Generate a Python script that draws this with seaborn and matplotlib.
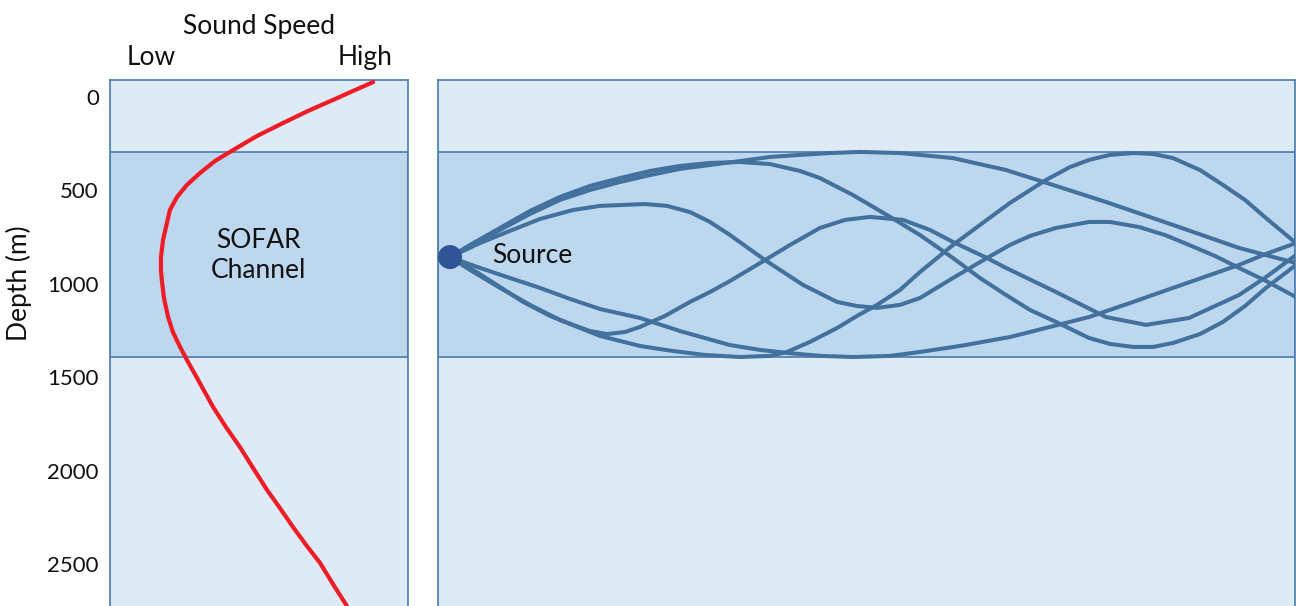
import numpy as np
import pandas as pd
import matplotlib
matplotlib.use("Agg")
import matplotlib.pyplot as plt
import seaborn as sns

# ---------------- data ----------------
# sound speed profile (normalised speed 0..1, depth in m)
speed = [0.883, 0.815, 0.748, 0.664, 0.581, 0.493, 0.413, 0.352, 0.302, 0.258,
         0.225, 0.201, 0.191, 0.178, 0.171, 0.171, 0.174, 0.181, 0.195, 0.211,
         0.235, 0.262, 0.292, 0.346, 0.389, 0.436, 0.480, 0.527, 0.570, 0.614,
         0.658, 0.705, 0.748, 0.795]
speed_depth = [-80, -32, 16, 75, 139, 209, 284, 343, 407, 471,
               535, 605, 675, 765, 857, 926, 980, 1076, 1178, 1258,
               1338, 1419, 1504, 1660, 1767, 1874, 1986, 2104, 2200, 2302,
               2398, 2495, 2607, 2725]

depth_ticks = [0, 500, 1000, 1500, 2000, 2500]
speed_ticks = [0.138, 0.856]
speed_labels = ["Low", "High"]

channel_top, channel_bottom = 295, 1390
source_range, source_depth = 12, 857

# ray paths (range in km, depth in m)
ray_up_top_r = [12, 32, 62, 92, 122, 152, 182, 212, 242, 272, 302, 332, 362, 392, 422, 462, 515, 568, 618, 668, 735, 801, 858]
ray_up_top_d = [857, 798, 712, 626, 551, 498, 455, 418, 385, 364, 343, 321, 310, 300, 294, 300, 327, 391, 476, 562, 685, 808, 889]

ray_up_mid_r = [12, 32, 62, 92, 122, 152, 182, 212, 242, 272, 302, 332, 362, 382, 415, 449, 482, 515, 542, 568, 592, 618, 651, 672, 695, 715, 735, 762, 785, 807, 828, 858]
ray_up_mid_d = [857, 792, 701, 610, 535, 476, 434, 396, 369, 353, 348, 359, 396, 434, 525, 632, 739, 862, 969, 1060, 1140, 1204, 1290, 1322, 1338, 1338, 1317, 1269, 1204, 1119, 1022, 899]

ray_up_low_r = [12, 42, 69, 102, 135, 162, 185, 207, 229, 252, 272, 292, 327, 365, 399, 419, 439, 462, 482, 515, 549, 572, 592, 618, 651, 672, 701, 727, 751, 777, 801, 828, 858]
ray_up_low_d = [857, 782, 723, 653, 605, 583, 578, 573, 583, 616, 669, 739, 873, 1006, 1097, 1119, 1129, 1113, 1076, 969, 862, 792, 744, 701, 669, 669, 696, 739, 792, 851, 915, 985, 1071]

ray_dn_steep_r = [12, 32, 62, 85, 112, 135, 152, 169, 187, 202, 227, 252, 272, 292, 327, 352, 382, 407, 432, 465, 492, 515, 549, 568, 618, 668, 708, 751, 801, 828, 858]
ray_dn_steep_d = [857, 915, 1017, 1097, 1172, 1220, 1253, 1269, 1258, 1231, 1172, 1097, 1044, 985, 873, 792, 701, 658, 642, 658, 712, 776, 862, 915, 1044, 1178, 1220, 1183, 1060, 964, 846]

ray_dn_mid_r = [12, 32, 62, 92, 122, 162, 202, 235, 267, 302, 332, 349, 372, 399, 419, 439, 462, 482, 515, 542, 572, 608, 632, 651, 672, 695, 715, 735, 762, 785, 807, 828, 858]
ray_dn_mid_d = [857, 926, 1022, 1113, 1194, 1279, 1333, 1360, 1381, 1392, 1386, 1365, 1311, 1237, 1172, 1113, 1033, 937, 792, 685, 567, 444, 375, 337, 310, 300, 305, 327, 391, 471, 551, 648, 782]

ray_dn_low_r = [12, 42, 72, 102, 132, 162, 202, 242, 292, 322, 349, 382, 415, 452, 482, 522, 572, 612, 651, 692, 735, 772, 801, 828, 858]
ray_dn_low_d = [857, 915, 969, 1022, 1081, 1135, 1183, 1253, 1328, 1354, 1370, 1386, 1392, 1386, 1365, 1333, 1285, 1231, 1178, 1103, 1022, 953, 899, 840, 782]

rays = {
    "up_top": (ray_up_top_r, ray_up_top_d),
    "up_mid": (ray_up_mid_r, ray_up_mid_d),
    "up_low": (ray_up_low_r, ray_up_low_d),
    "dn_steep": (ray_dn_steep_r, ray_dn_steep_d),
    "dn_mid": (ray_dn_mid_r, ray_dn_mid_d),
    "dn_low": (ray_dn_low_r, ray_dn_low_d),
}
ray_df = pd.concat(
    [pd.DataFrame({"range": r, "depth": d, "ray": name}) for name, (r, d) in rays.items()],
    ignore_index=True,
)
profile_df = pd.DataFrame({"speed": speed, "depth": speed_depth})

# ---------------- style ----------------
sns.set_style("white")
plt.rcParams["font.family"] = ["Lato", "DejaVu Sans"]

LIGHT = "#DEEBF7"
BAND = "#BDD7EE"
EDGE = "#4A7BAA"
RAY = "#41719C"
SRC = "#2F5597"
RED = "#EE1C25"
TXT = "#111111"

W, H = 1296, 606
fig = plt.figure(figsize=(W / 100, H / 100), dpi=100)
top_px, bot_px = 80, 606
ax1 = fig.add_axes([110 / W, 1 - bot_px / H, 298 / W, (bot_px - top_px) / H])
ax2 = fig.add_axes([438 / W, 1 - bot_px / H, 857 / W, (bot_px - top_px) / H])

ylim = (2725, -91)
for ax in (ax1, ax2):
    ax.set_facecolor(LIGHT)
    ax.axhspan(channel_top, channel_bottom, facecolor=BAND, edgecolor=EDGE, lw=1.2, zorder=0.5)
    ax.set_ylim(*ylim)
    for side in ("left", "right", "top"):
        ax.spines[side].set_color(EDGE)
        ax.spines[side].set_linewidth(1.2)
    ax.spines["bottom"].set_visible(False)

line_kw = dict(solid_joinstyle="round", solid_capstyle="round")

# left panel: sound speed profile
sns.lineplot(data=profile_df, x="speed", y="depth", sort=False, estimator=None,
             color=RED, lw=3.0, ax=ax1, zorder=3, **line_kw)
ax1.set_xlim(0, 1)
ax1.set_yticks(depth_ticks)
ax1.set_yticklabels([str(t) for t in depth_ticks], fontsize=16, color=TXT)
ax1.tick_params(axis="y", length=0, pad=8)
ax1.xaxis.set_ticks_position("top")
ax1.xaxis.set_label_position("top")
ax1.set_xticks(speed_ticks)
ax1.set_xticklabels(speed_labels, fontsize=19, color=TXT)
ax1.tick_params(axis="x", length=0, pad=7)
ax1.set_xlabel("Sound Speed", fontsize=19, labelpad=8, color=TXT)
ax1.set_ylabel("Depth (m)", fontsize=19, color=TXT)
ax1.yaxis.set_label_coords(-0.262, 0.614)
ax1.text(0.497, 846, "SOFAR\nChannel", ha="center", va="center", fontsize=19,
         linespacing=1.25, color=TXT)

# right panel: ray paths
sns.lineplot(data=ray_df, x="range", y="depth", units="ray", estimator=None, sort=False,
             color=RAY, lw=2.9, ax=ax2, zorder=3, **line_kw)
sns.scatterplot(x=[source_range], y=[source_depth], s=300, color=SRC, edgecolor="none",
                ax=ax2, zorder=4)
ax2.set_xlim(0, 857)
ax2.text(54, 846, "Source", ha="left", va="center", fontsize=19, color=TXT)
ax2.set_xticks([])
ax2.set_yticks([])
ax2.set_xlabel("")
ax2.set_ylabel("")

fig.savefig("out.png", dpi=100)
